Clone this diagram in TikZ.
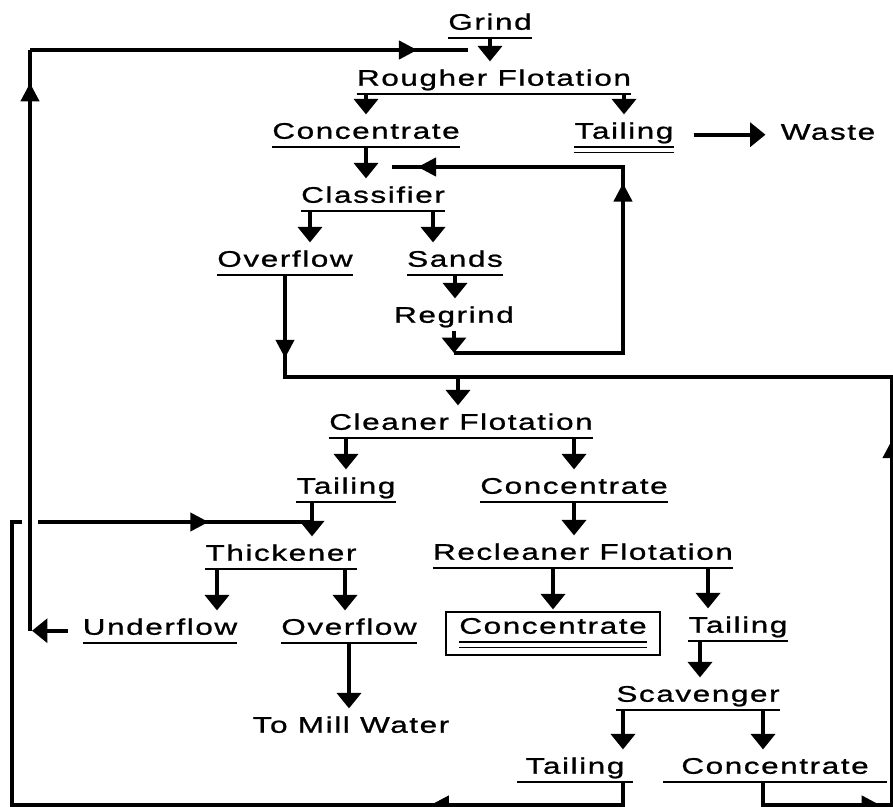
\documentclass[tikz,border=0pt]{standalone}
\usepackage{fontspec}
\setmainfont{Liberation Sans}[FakeStretch=1.4,LetterSpace=7,FakeBold=1]
\usetikzlibrary{arrows.meta}
\usetikzlibrary{decorations.markings}
\tikzset{
        node_word/.style={anchor=south, inner xsep=0pt, inner ysep=0pt, text height=0.4cm, text depth=0.2cm,
                font=\fontsize{16pt}{18pt}\selectfont},
        % Stages, underlined
        node_stage/.style={node_word, append after command={(\tikzlastnode.south west) edge[line_under] (\tikzlastnode.south east)}},
        % End products, double underline
        node_product/.style={node_word, append after command={(\tikzlastnode.south west) edge[line_thin] (\tikzlastnode.south east)
                ([yshift=-0.14cm]\tikzlastnode.south west) edge[line_thin] ([yshift=-0.14cm]\tikzlastnode.south east)}},
        node_box/.style={draw, line width=0.8pt, inner sep=0pt, minimum width=5.35cm, minimum height=1.075cm},
        line_under/.style={-, line width=1.3pt},
        line_thin/.style={-, line width=0.9pt},
        line_flow/.style={-{Triangle[length=11pt,width=17pt]}, line width=2.8pt, shorten >=0.2cm},
        line_loop/.style={line width=2.5pt},
        % arrow head somewhere along a loop line
        tip_at/.style={postaction={decorate, decoration={markings,
                mark=at position #1 with {\arrow{Triangle[length=13pt,width=13pt]}}}}}
}
\begin{document}
\begin{tikzpicture}[x=0.025cm, y=-0.025cm]
    \fill[white] (0,0) rectangle (893,807);
    \useasboundingbox (0,0) rectangle (893,807);

    % rougher circuit
    \node[node_stage] (grind) at (490,38) {Grind};
    \node[node_stage] (rough) at (494,94) {Rougher Flotation};
    \node[node_stage] (conc1) at (366,147) {Concentrate};
    \node[node_product] (tail1) at (624,147) {Tailing};
    \node[node_word] (waste) at (828,148) {Waste};
    \node[node_stage] (classif) at (373,211) {Classifier};
    \node[node_stage] (ovf1) at (285,275) {Overflow};
    \node[node_stage] (sands) at (455,275) {Sands};
    \node[node_word] (regrind) at (454,331) {Regrind};

    % cleaner circuit
    \node[node_stage] (clean) at (461,438) {Cleaner Flotation};
    \node[node_stage] (tail2) at (346,502) {Tailing};
    \node[node_stage] (conc2) at (574,502) {Concentrate};
    \node[node_stage] (thick) at (281,569) {Thickener};
    \node[node_stage] (under) at (160,643) {Underflow};
    \node[node_stage] (ovf2) at (349,643) {Overflow};
    \node[node_word] (mill) at (351,741) {To Mill Water};
    \node[node_stage] (recl) at (583,568) {Recleaner Flotation};
    \node[node_product] (conc3) at (553,642) {Concentrate};
    \node[node_box] (c3box) at (553,633.5) {};
    \node[node_stage] (tail3) at (738,641) {Tailing};
    \node[node_stage] (scav) at (698,710) {Scavenger};
    \node[node_stage, inner xsep=0.2cm] (tail4) at (575,782) {Tailing};
    \node[node_stage, inner xsep=0.45cm] (conc4) at (775,782) {Concentrate};

    \coordinate (rgjoin) at (454,353);
    \coordinate (rgturn) at (623,353);
    \coordinate (retturn) at (623,167);
    \coordinate (retend) at (392,167);
    \coordinate (cljoin) at (458,377);
    \coordinate (righttop) at (892,377);
    \coordinate (rightbot) at (892,805);
    \coordinate (botleft) at (12,805);
    \coordinate (t2join) at (312,522);
    \coordinate (uftop) at (30,50);
    \coordinate (ufend) at (468,50);
    \coordinate (scavL) at ([xshift=-1.875cm]scav.south);
    \coordinate (scavR) at ([xshift=1.625cm]scav.south);

    \draw[line_flow] (grind.south) -- (grind.south |- rough.north);
    \draw[line_flow] (rough.south -| conc1.north) -- (conc1.north);
    \draw[line_flow] (rough.south -| tail1.north) -- (tail1.north);
    \draw[line_flow, shorten <=0.5cm, shorten >=0.375cm] (tail1.east) -- (tail1.east -| waste.west);
    \draw[line_flow] (conc1.south) -- (conc1.south |- classif.north);
    \draw[line_flow] ([xshift=-1.575cm]classif.south) -- ([xshift=-1.575cm]classif.south |- ovf1.north);
    \draw[line_flow] ([xshift=1.5cm]classif.south) -- ([xshift=1.5cm]classif.south |- sands.north);
    \draw[line_flow] (sands.south) -- (sands.south |- regrind.north);
    \draw[line_flow, shorten >=0pt] (regrind.south) -- (rgjoin);
    \draw[line_loop, tip_at=0.578, tip_at=0.956] (rgjoin) -- (rgturn) -- (retturn) -- (retend);
    \draw[line_loop, tip_at=0.302] (ovf1.south) |- (cljoin);
    \draw[line_flow] (cljoin) -- (cljoin |- clean.north);

    \draw[line_flow] (clean.south -| tail2.north) -- (tail2.north);
    \draw[line_flow] (clean.south -| conc2.north) -- (conc2.north);
    \draw[line_flow] (tail2.south -| t2join) -- (t2join |- thick.north);
    \draw[line_flow] (conc2.south) -- (conc2.south |- recl.north);
    \draw[line_flow] ([xshift=-1.6cm]thick.south) -- ([xshift=-1.6cm]thick.south |- under.north);
    \draw[line_flow] ([xshift=1.6cm]thick.south) -- ([xshift=1.6cm]thick.south |- ovf2.north);
    \draw[line_flow] (ovf2.south) -- (ovf2.south |- mill.north);
    \draw[line_flow, shorten >=0.05cm] (recl.south -| c3box.north) -- (c3box.north);
    \draw[line_flow] ([xshift=3.125cm]recl.south) -- ([xshift=3.125cm]recl.south |- tail3.north);
    \draw[line_flow] ([xshift=-0.95cm]tail3.south) -- ([xshift=-0.95cm]tail3.south |- scav.north);
    \draw[line_flow] (scavL) -- (scavL |- tail4.north);
    \draw[line_flow] (scavR) -- (scavR |- conc4.north);

    % recycle lines
    \draw[line_loop, tip_at=0.138, tip_at=0.51] (conc4.south -| scavR) |- (rightbot) -- (righttop) -- (cljoin);
    \draw[line_loop, tip_at=0.177, tip_at=0.915] (tail4.south -| scavL) |- (botleft) |- (t2join);
    \draw[line_loop, tip_at=0.943, preaction={draw=white, line width=0.4cm}] (under.west -| uftop) -- (uftop);
    \draw[line_loop, tip_at=0.884] (uftop) -- (ufend);
    \draw[line_flow, shorten >=0.05cm] ([xshift=-0.375cm]under.west) -- (under.west -| uftop);
\end{tikzpicture}
\end{document}
